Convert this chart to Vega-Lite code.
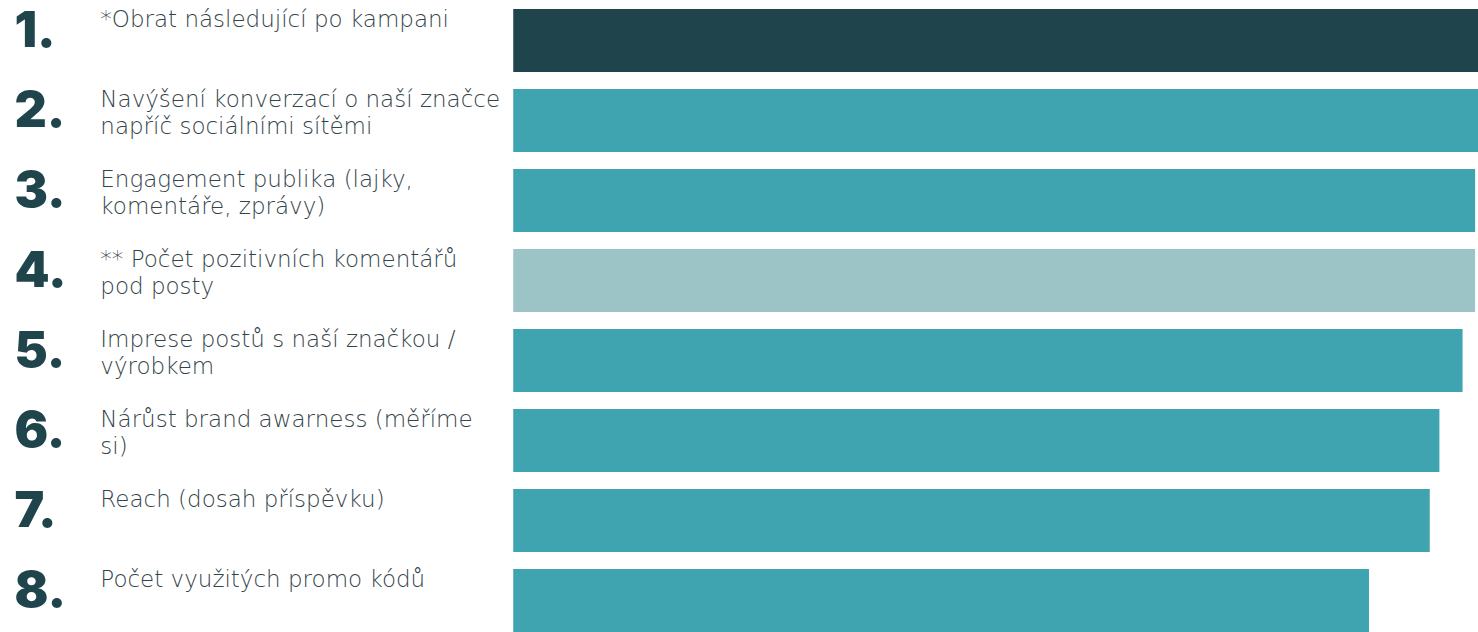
{
  "$schema": "https://vega.github.io/schema/vega-lite/v6.json",
  "width": 1478,
  "height": 632,
  "padding": 0,
  "autosize": {"type": "none"},
  "background": "#ffffff",
  "config": {"view": {"stroke": null}},
  "data": {
    "values": [
      {"poradi": 1, "cislo": "1.", "popis": "*Obrat následující po kampani", "hodnota": 100, "skupina": "hlavni"},
      {"poradi": 2, "cislo": "2.", "popis": "Navýšení konverzací o naší značce\nnapříč sociálními sítěmi", "hodnota": 100, "skupina": "ostatni"},
      {"poradi": 3, "cislo": "3.", "popis": "Engagement publika (lajky,\nkomentáře, zprávy)", "hodnota": 99.7, "skupina": "ostatni"},
      {"poradi": 4, "cislo": "4.", "popis": "** Počet pozitivních komentářů\npod posty", "hodnota": 99.7, "skupina": "svetla"},
      {"poradi": 5, "cislo": "5.", "popis": "Imprese postů s naší značkou /\nvýrobkem", "hodnota": 98.4, "skupina": "ostatni"},
      {"poradi": 6, "cislo": "6.", "popis": "Nárůst brand awarness (měříme\nsi)", "hodnota": 96.0, "skupina": "ostatni"},
      {"poradi": 7, "cislo": "7.", "popis": "Reach (dosah příspěvku)", "hodnota": 95.0, "skupina": "ostatni"},
      {"poradi": 8, "cislo": "8.", "popis": "Počet využitých promo kódů", "hodnota": 88.7, "skupina": "ostatni"}
    ]
  },
  "encoding": {
    "y": {
      "field": "poradi",
      "type": "ordinal",
      "axis": null,
      "scale": {"paddingInner": 0.2125, "paddingOuter": 0.05625, "align": 1}
    }
  },
  "layer": [
    {
      "mark": {"type": "bar", "cornerRadius": 0},
      "encoding": {
        "x": {"field": "hodnota", "type": "quantitative", "axis": null, "scale": {"domain": [-53.2, 100], "nice": false, "zero": false}},
        "x2": {"datum": 0},
        "color": {
          "field": "skupina",
          "type": "nominal",
          "legend": null,
          "scale": {"domain": ["hlavni", "ostatni", "svetla"], "range": ["#1f444b", "#40a4b0", "#9cc4c6"]}
        }
      }
    },
    {
      "mark": {"type": "text", "align": "left", "baseline": "alphabetic", "dy": 38, "font": "Inter", "fontWeight": 900, "fontSize": 50, "fill": "#1f444b"},
      "encoding": {
        "x": {"datum": -51.7},
        "y": {"field": "poradi", "type": "ordinal", "bandPosition": 0},
        "text": {"field": "cislo"}
      }
    },
    {
      "mark": {"type": "text", "align": "left", "baseline": "alphabetic", "dy": 18, "font": "DejaVu Sans", "fontWeight": 200, "fontSize": 23, "lineHeight": 27, "lineBreak": "\n", "fill": "#33434a"},
      "encoding": {
        "x": {"datum": -42.8},
        "y": {"field": "poradi", "type": "ordinal", "bandPosition": 0},
        "text": {"field": "popis"}
      }
    }
  ]
}
